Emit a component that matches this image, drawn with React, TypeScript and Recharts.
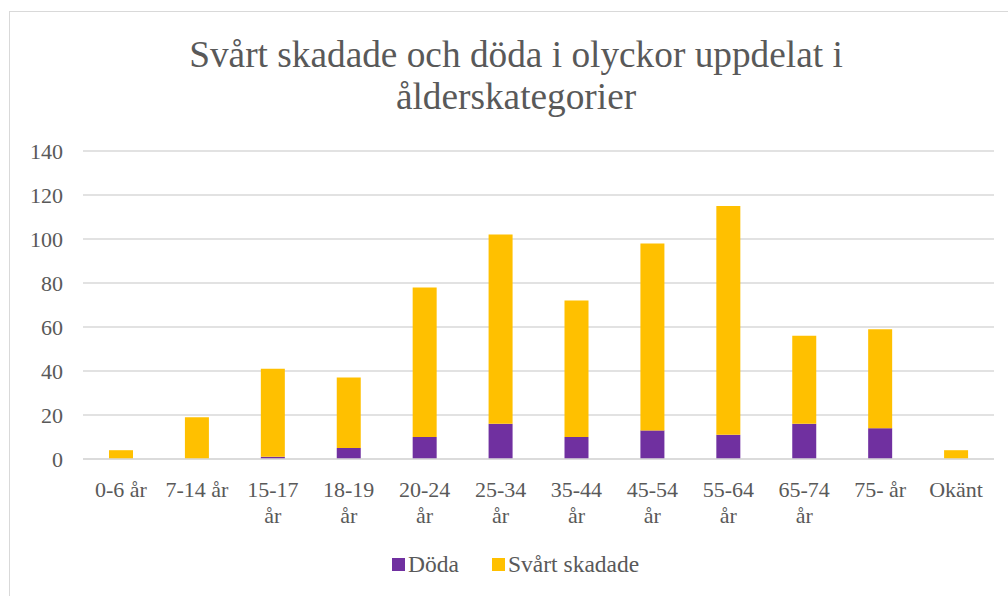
import React from "react";
import { BarChart, Bar, XAxis, YAxis, CartesianGrid, Legend } from "recharts";

const categories = [
  "0-6 år",
  "7-14 år",
  "15-17 år",
  "18-19 år",
  "20-24 år",
  "25-34 år",
  "35-44 år",
  "45-54 år",
  "55-64 år",
  "65-74 år",
  "75- år",
  "Okänt",
];

const doda = [0, 0, 1, 5, 10, 16, 10, 13, 11, 16, 14, 0];
const svartSkadade = [4, 19, 40, 32, 68, 86, 62, 85, 104, 40, 45, 4];

const yTicks = [0, 20, 40, 60, 80, 100, 120, 140];

const titleLines = ["Svårt skadade och döda i olyckor uppdelat i", "ålderskategorier"];

const data = categories.map((name, i) => ({
  name,
  doda: doda[i],
  svart: svartSkadade[i],
}));

const FONT = "Liberation Serif";
const TEXT = "#595959";
const GRID = "#d9d9d9";
const PURPLE = "#7030A0";
const YELLOW = "#FFC000";

let ctx: CanvasRenderingContext2D | null = null;
function measure(s: string) {
  if (!ctx) {
    ctx = document.createElement("canvas").getContext("2d");
    if (ctx) ctx.font = `22px "${FONT}"`;
  }
  return ctx ? ctx.measureText(s).width : s.length * 10;
}

// greedy word wrap inside one category slot
function wrap(label: string, maxW: number) {
  const words = label.split(" ");
  const lines: string[] = [];
  let cur = "";
  words.forEach((w) => {
    const next = cur ? cur + " " + w : w;
    if (cur && measure(next) > maxW) {
      lines.push(cur);
      cur = w;
    } else {
      cur = next;
    }
  });
  if (cur) lines.push(cur);
  return lines;
}

function CategoryTick(props: any) {
  const { x, y, payload } = props;
  const lines = wrap(String(payload.value), 71);
  return (
    <text x={x} y={y} textAnchor="middle" fontFamily={FONT} fontSize={22} fill={TEXT}>
      {lines.map((l, i) => (
        <tspan key={i} x={x} dy={i === 0 ? 16 : 25.5}>
          {l}
        </tspan>
      ))}
    </text>
  );
}

function LegendContent() {
  const items = [
    { label: "Döda", color: PURPLE, left: 392 },
    { label: "Svårt skadade", color: YELLOW, left: 492 },
  ];
  return (
    <div style={{ height: 40, position: "relative" }}>
      {items.map((it) => (
        <div
          key={it.label}
          style={{
            position: "absolute",
            top: -5,
            left: it.left,
            display: "flex",
            alignItems: "center",
            fontFamily: FONT,
            fontSize: 23.5,
            color: TEXT,
            lineHeight: "26px",
            whiteSpace: "nowrap",
          }}
        >
          <span
            style={{
              display: "inline-block",
              width: 13,
              height: 13,
              background: it.color,
              marginRight: 3,
            }}
          />
          <span>{it.label}</span>
        </div>
      ))}
    </div>
  );
}

export default function App() {
  return (
    <div
      style={{
        position: "fixed",
        left: 0,
        top: 0,
        width: 1008,
        height: 596,
        overflow: "hidden",
        background: "#fff",
      }}
    >
      <div
        style={{
          position: "absolute",
          left: 9,
          top: 11,
          width: 1100,
          height: 700,
          border: `1.5px solid ${GRID}`,
          boxSizing: "border-box",
        }}
      />
      <div style={{ position: "absolute", left: 0, top: 0 }}>
        <BarChart
          width={1008}
          height={596}
          data={data}
          margin={{ top: 151, right: 14, left: 0, bottom: 0 }}
          barSize={24}
        >
          <CartesianGrid vertical={false} stroke={GRID} strokeWidth={1.5} />
          <YAxis
            width={83}
            domain={[0, 140]}
            ticks={yTicks}
            interval={0}
            axisLine={false}
            tickLine={false}
            tickSize={0}
            tickMargin={20}
            tick={{ fontFamily: FONT, fontSize: 22, fill: TEXT }}
          />
          <XAxis
            dataKey="name"
            height={97}
            interval={0}
            axisLine={{ stroke: GRID, strokeWidth: 1.5 }}
            tickLine={false}
            tickSize={0}
            tickMargin={22}
            tick={<CategoryTick />}
          />
          <Legend verticalAlign="bottom" content={<LegendContent />} />
          <Bar dataKey="doda" name="Döda" stackId="a" fill={PURPLE} isAnimationActive={false} />
          <Bar dataKey="svart" name="Svårt skadade" stackId="a" fill={YELLOW} isAnimationActive={false} />
        </BarChart>
      </div>
      <svg
        width={1008}
        height={140}
        style={{ position: "absolute", left: 0, top: 0, pointerEvents: "none" }}
      >
        {titleLines.map((line, i) => (
          <text
            key={i}
            x={516}
            y={67 + i * 42}
            textAnchor="middle"
            fontFamily={FONT}
            fontSize={37.3}
            fill={TEXT}
          >
            {line}
          </text>
        ))}
      </svg>
    </div>
  );
}
